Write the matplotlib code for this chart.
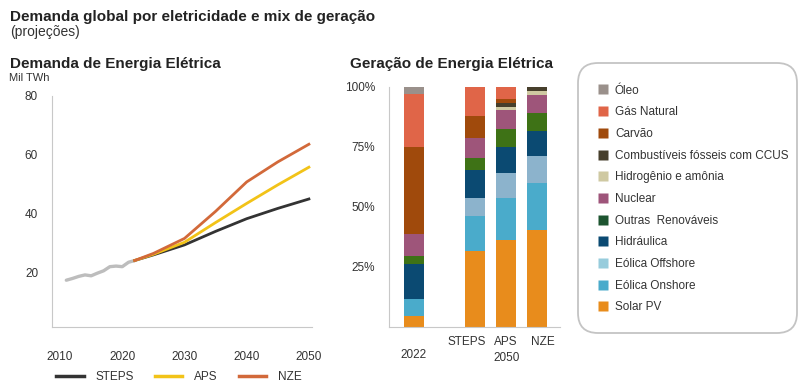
import matplotlib
matplotlib.use("Agg")
import matplotlib.pyplot as plt
import numpy as np
from matplotlib.patches import FancyBboxPatch
from matplotlib.lines import Line2D
from matplotlib.transforms import blended_transform_factory

plt.rcParams['font.family'] = ['Liberation Sans', 'DejaVu Sans']

# ---- demand data (Mil TWh) ----
hist_years = [2011, 2012, 2013, 2014, 2015, 2016, 2017, 2018, 2019, 2020, 2021, 2022]
hist_vals = [17.4, 18.0, 18.7, 19.2, 18.9, 19.8, 20.6, 22.0, 22.2, 22.0, 23.5, 24.1]

proj_years = [2022, 2025, 2030, 2035, 2040, 2045, 2050]
steps_vals = [24.1, 26.0, 29.4, 34.0, 38.3, 41.8, 45.0]
aps_vals = [24.1, 26.2, 30.3, 37.0, 43.5, 49.8, 55.8]
nze_vals = [24.1, 26.5, 31.6, 40.8, 50.8, 57.6, 63.6]

# ---- generation mix (%) ----
bar_labels = ['2022', 'STEPS', 'APS', 'NZE']
sources = ['Solar PV', 'Eólica Onshore', 'Eólica Offshore', 'Hidráulica',
           'Outras  Renováveis', 'Nuclear', 'Hidrogênio e amônia',
           'Combustíveis fósseis com CCUS', 'Carvão', 'Gás Natural', 'Óleo']
mix = {
    'Solar PV':                      [4.4, 31.5, 36.1, 40.3],
    'Eólica Onshore':                [7.1, 14.6, 17.5, 19.6],
    'Eólica Offshore':               [0.0, 7.5, 10.4, 11.2],
    'Hidráulica':                    [14.9, 11.7, 10.9, 10.4],
    'Outras  Renováveis':            [3.0, 5.0, 7.5, 7.5],
    'Nuclear':                       [9.2, 8.3, 7.9, 7.5],
    'Hidrogênio e amônia':           [0.0, 0.0, 1.4, 1.8],
    'Combustíveis fósseis com CCUS': [0.0, 0.0, 1.4, 1.7],
    'Carvão':                        [36.3, 9.2, 1.8, 0.0],
    'Gás Natural':                   [21.9, 12.2, 5.1, 0.0],
    'Óleo':                          [3.2, 0.0, 0.0, 0.0],
}
colors = {
    'Solar PV': '#e88c1c',
    'Eólica Onshore': '#4aabcb',
    'Eólica Offshore': '#8cb3cc',
    'Hidráulica': '#0b4a72',
    'Outras  Renováveis': '#3e7216',
    'Nuclear': '#9e557a',
    'Hidrogênio e amônia': '#cfc9a2',
    'Combustíveis fósseis com CCUS': '#473f2c',
    'Carvão': '#a04a0c',
    'Gás Natural': '#e06548',
    'Óleo': '#9a908b',
}
legend_colors = dict(colors)
legend_colors['Outras  Renováveis'] = '#1d5430'
legend_colors['Eólica Offshore'] = '#97ccdc'

W, H = 804, 389
fig = plt.figure(figsize=(W / 100, H / 100), dpi=100)

def fx(px):
    return px / W

def fy(py):
    return 1 - py / H

grey = '#c8c8c8'
txt = '#333333'

# titles
fig.text(fx(10), fy(17), 'Demanda global por eletricidade e mix de geração',
         fontsize=11, fontweight='bold', color='#222222', va='center')
fig.text(fx(10), fy(32), '(projeções)', fontsize=10, color='#333333', va='center')
fig.text(fx(10), fy(64), 'Demanda de Energia Elétrica', fontsize=11,
         fontweight='bold', color='#222222', va='center')
fig.text(fx(9), fy(78), 'Mil TWh', fontsize=8, color='#333333', va='center')
fig.text(fx(350), fy(64), 'Geração de Energia Elétrica', fontsize=11,
         fontweight='bold', color='#222222', va='center')

# ---- left chart ----
ax = fig.add_axes([fx(52), fy(327), fx(312 - 52), (327 - 96) / H])
ax.plot(hist_years, hist_vals, color='#bdbdbd', lw=2.4, solid_capstyle='round')
ax.plot(proj_years, steps_vals, color='#333333', lw=2, label='STEPS')
ax.plot(proj_years, aps_vals, color='#f2c318', lw=2, label='APS')
ax.plot(proj_years, nze_vals, color='#d2693a', lw=2, label='NZE')
ax.set_xlim(2008.7, 2050.5)
ax.set_ylim(1.5, 80)
ax.set_xticks([2010, 2020, 2030, 2040, 2050])
ax.set_yticks([20, 40, 60, 80])
for s in ['top', 'right']:
    ax.spines[s].set_visible(False)
for s in ['left', 'bottom']:
    ax.spines[s].set_color(grey)
ax.tick_params(axis='both', length=0, labelsize=8.5, labelcolor=txt)
ax.tick_params(axis='x', pad=17)
ax.tick_params(axis='y', pad=10)
leg = ax.legend(loc='center', bbox_to_anchor=(fx(179), fy(377)),
                bbox_transform=fig.transFigure, ncol=3, frameon=False,
                fontsize=8.5, handlelength=2.3, handletextpad=1.0,
                columnspacing=1.8, labelcolor=txt)
for l in leg.get_lines():
    l.set_linewidth(2.5)

# ---- right chart ----
bx = fig.add_axes([fx(389), fy(327), fx(560 - 389), (327 - 86.7) / H])
pos = np.array([0, 2, 3, 4])
bottom = np.zeros(len(pos))
for src in sources:
    vals = np.array(mix[src])
    bx.bar(pos, vals, width=0.65, bottom=bottom, color=colors[src], linewidth=0)
    bottom += vals
bx.set_xlim(-0.8, 4.74)
bx.set_ylim(0, 100)
bx.set_yticks([25, 50, 75, 100])
bx.set_yticklabels(['25%', '50%', '75%', '100%'])
bx.set_xticks([])
for s in ['top', 'right']:
    bx.spines[s].set_visible(False)
for s in ['left', 'bottom']:
    bx.spines[s].set_color(grey)
bx.tick_params(axis='y', length=0, labelsize=8.5, labelcolor=txt, pad=10)
tr = blended_transform_factory(bx.transData, fig.transFigure)
label_shift = [0, -0.28, -0.03, 0.17]
for p, lab, d in zip(pos[1:], bar_labels[1:], label_shift[1:]):
    bx.text(p + d, fy(342), lab, transform=tr, ha='center', va='center',
            fontsize=8.5, color=txt)
bx.text(pos[0], fy(355), bar_labels[0], transform=tr, ha='center', va='center',
        fontsize=8.5, color=txt)
bx.text(pos[2], fy(358), '2050', transform=tr, ha='center', va='center',
        fontsize=8.5, color=txt)

# ---- legend box ----
box = FancyBboxPatch((5.78, (H - 333) / 100), 2.19, 2.70,
                     boxstyle='round,pad=0,rounding_size=0.2',
                     transform=fig.dpi_scale_trans, facecolor='white',
                     edgecolor='#c4c4c4', linewidth=1.3)
fig.add_artist(box)
handles = [Line2D([], [], marker='s', linestyle='none', markersize=6.5,
                  markerfacecolor=legend_colors[s], markeredgecolor='none')
           for s in sources[::-1]]
fig.legend(handles, sources[::-1], loc='upper left',
           bbox_to_anchor=(fx(586), fy(74)), frameon=False, fontsize=8.5,
           labelspacing=0.82, handletextpad=0.55, handlelength=1.0,
           labelcolor=txt)

fig.savefig('out.png', dpi=100, facecolor='white')
